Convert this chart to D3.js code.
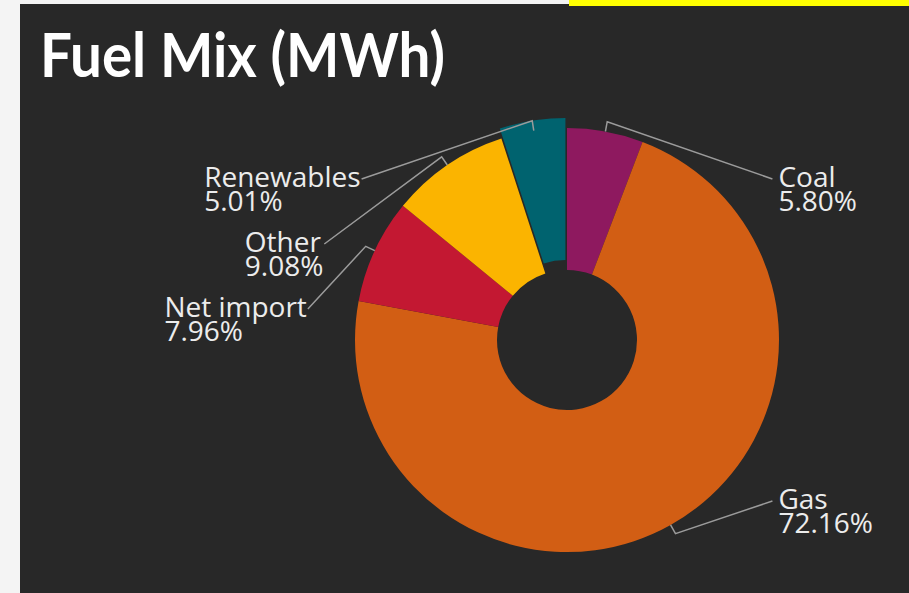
<!DOCTYPE html>
<html>
<head>
<meta charset="UTF-8">
<title>Fuel Mix (MWh)</title>
<style>
    body { margin: 0; background: #f4f4f4; }
    svg { display: block; }
</style>
</head>
<body>
<svg id="chart"></svg>
<script src="https://d3js.org/d3.v7.min.js"></script>
<script>
    // data
    const categories = ["Coal", "Gas", "Net import", "Other", "Renewables"];
    const shares = [5.80, 72.16, 7.96, 9.08, 5.01];
    const sliceColors = ["#8e195f", "#d25e14", "#c31832", "#fbb400", "#00636f"];
    const pulledOut = ["Renewables"];

    const width = 909, height = 593;
    const bg = "#282828";

    const svg = d3.select("#chart")
        .attr("width", width)
        .attr("height", height);

    // dark panel + yellow strip along the top
    svg.append("rect")
        .attr("x", 20).attr("y", 4)
        .attr("width", width - 20).attr("height", height - 4)
        .attr("fill", bg);
    svg.append("rect")
        .attr("x", 569).attr("y", 0)
        .attr("width", width - 569).attr("height", 6)
        .attr("fill", "#ffff00");

    svg.append("text")
        .attr("x", 40)
        .attr("y", 77)
        .attr("textLength", 405)
        .attr("lengthAdjust", "spacingAndGlyphs")
        .style("font-family", "Lato, 'Open Sans', sans-serif")
        .style("font-weight", 700)
        .style("font-size", "62px")
        .attr("fill", "#ffffff")
        .text("Fuel Mix (MWh)");

    const cx = 567, cy = 340;
    const outerR = 212, innerR = 70;
    const explode = 10;

    const data = categories.map((c, i) => ({ name: c, value: shares[i], color: sliceColors[i] }));

    const pie = d3.pie().sort(null).value(d => d.value);
    const arcs = pie(data);

    const arc = d3.arc().innerRadius(innerR).outerRadius(outerR);

    const g = svg.append("g").attr("transform", `translate(${cx},${cy})`);

    g.selectAll("path.slice")
        .data(arcs)
        .enter().append("path")
        .attr("class", "slice")
        .attr("d", arc)
        .attr("fill", d => d.data.color)
        .attr("transform", d => {
            if (!pulledOut.includes(d.data.name)) return null;
            const m = (d.startAngle + d.endAngle) / 2;
            return `translate(${explode * Math.sin(m)},${-explode * Math.cos(m)})`;
        });

    // label layout: y from mid angle, clamped, pushed apart, x on a circle
    const labelR = 261, yLimit = 161, minGap = 65;
    const tickR0 = 212, tickR1 = 222;

    const labels = arcs.map(d => {
        const m = (d.startAngle + d.endAngle) / 2;
        return {
            d: d,
            mid: m,
            side: Math.sin(m) >= 0 ? 1 : -1,
            natural: -labelR * Math.cos(m)
        };
    });

    [1, -1].forEach(side => {
        const list = labels.filter(l => l.side == side).sort((a, b) => a.natural - b.natural);
        list.forEach((l, i) => {
            l.y = Math.max(-yLimit, Math.min(yLimit, l.natural));
            if (i > 0) l.y = Math.max(l.y, list[i - 1].y + minGap);
        });
        for (let i = list.length - 1; i >= 0; i--) {
            const cap = i == list.length - 1 ? yLimit : list[i + 1].y - minGap;
            if (list[i].y > cap) list[i].y = cap;
        }
    });
    labels.forEach(l => {
        l.x = l.side * Math.sqrt(labelR * labelR - l.y * l.y);
    });

    const lines = g.append("g");
    labels.forEach(l => {
        const s = Math.sin(l.mid), c = -Math.cos(l.mid);
        lines.append("polyline")
            .attr("points", [
                [tickR0 * s, tickR0 * c],
                [tickR1 * s, tickR1 * c],
                [l.x, l.y]
            ].map(p => p.join(",")).join(" "))
            .attr("fill", "none")
            .attr("stroke", "#9b9b9b")
            .attr("stroke-width", 1.5);
    });

    const textG = g.append("g")
        .style("font-family", "'Open Sans', sans-serif")
        .style("font-size", "28px")
        .attr("fill", "#ececec");

    labels.forEach(l => {
        const t = textG.append("g");
        const a = t.append("text").attr("y", l.y + 7.5).text(l.d.data.name);
        const b = t.append("text").attr("y", l.y + 32).text(l.d.data.value.toFixed(2) + "%");
        let x;
        if (l.side > 0) {
            x = l.x + 6;
        } else {
            const w = Math.max(a.node().getComputedTextLength(), b.node().getComputedTextLength());
            x = l.x - 1 - w;
        }
        a.attr("x", x);
        b.attr("x", x);
    });
</script>
</body>
</html>
